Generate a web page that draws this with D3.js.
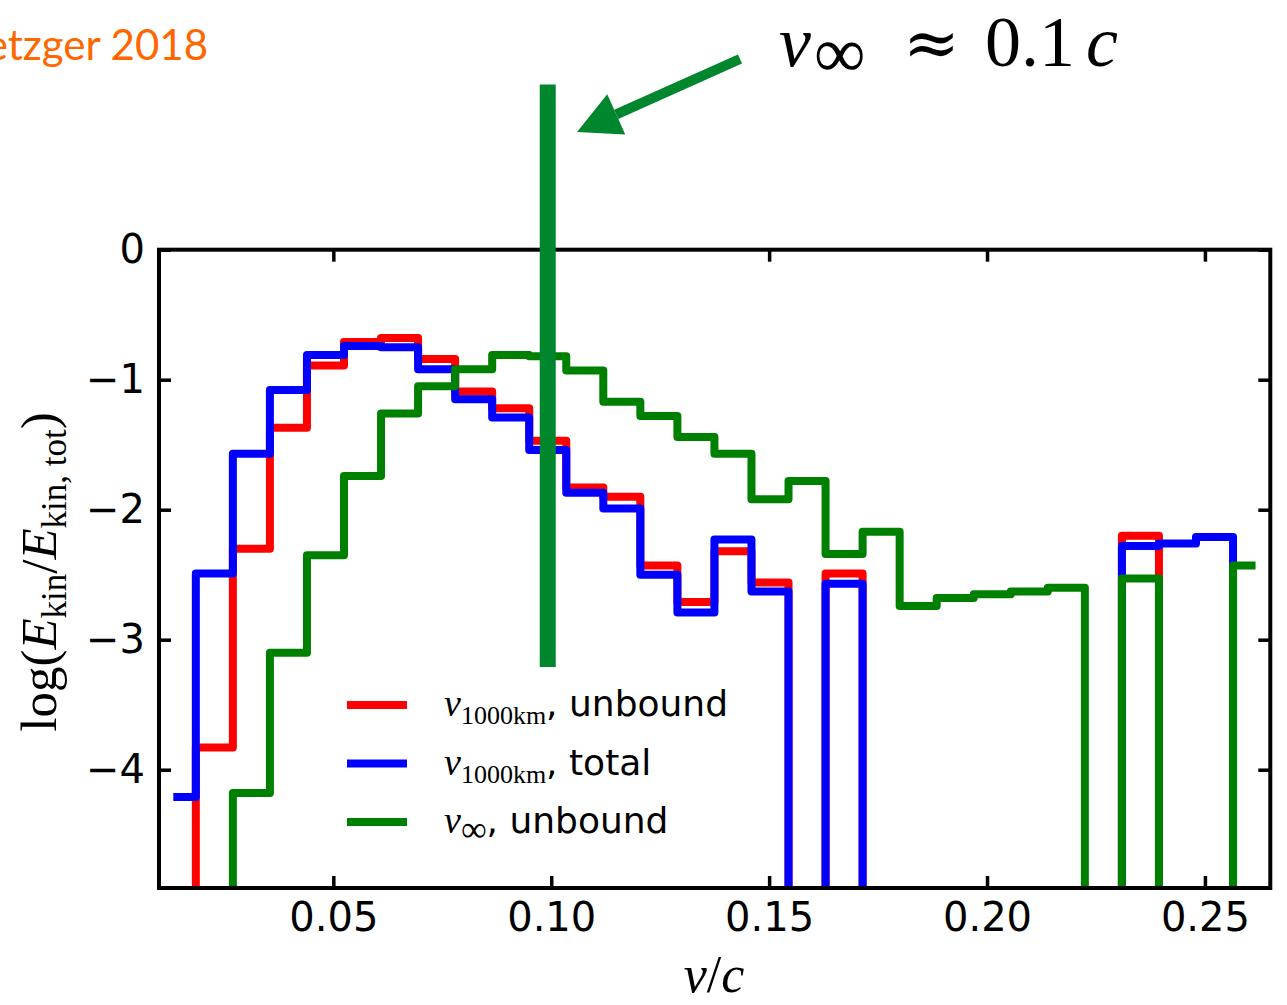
<!DOCTYPE html>
<html>
<head>
<meta charset="utf-8">
<script src="https://cdn.jsdelivr.net/npm/d3@7"></script>
<style>
  body { margin: 0; background: #fff; }
  svg { display: block; }
</style>
</head>
<body>
<svg id="chart" width="1287" height="1005"></svg>
<script>
// Velocity bins (bin centres, v/c); histogram steps switch at the midpoints.
const binCenters = [
  0.0142, 0.0227, 0.0312, 0.0397, 0.0482, 0.0567, 0.0652, 0.0737, 0.0822, 0.0907,
  0.0992, 0.1077, 0.1162, 0.1247, 0.1332, 0.1417, 0.1502, 0.1587, 0.1672, 0.1757,
  0.1842, 0.1927, 0.2012, 0.2097, 0.2182, 0.2267, 0.2352, 0.2437, 0.2522, 0.2607
];

// log(E_kin / E_kin,tot) per bin; null = empty bin (log of zero).
const unbound1000km = [
  null, -3.83, -2.30, -1.37, -0.89, -0.71, -0.68, -0.84, -1.09, -1.22,
  -1.47, -1.83, -1.90, -2.43, -2.71, -2.32, -2.56, null, -2.49, null,
  null, null, null, null, null, null, -2.20, null, null, null
];
const total1000km = [
  -4.21, -2.49, -1.57, -1.08, -0.81, -0.74, -0.75, -0.92, -1.15, -1.29,
  -1.54, -1.87, -1.99, -2.50, -2.79, -2.23, -2.63, null, -2.57, null,
  null, null, null, null, null, null, -2.28, -2.26, -2.21, null
];
const unboundInf = [
  null, null, -4.18, -3.10, -2.35, -1.74, -1.26, -1.05, -0.92, -0.81,
  -0.82, -0.93, -1.17, -1.28, -1.44, -1.57, -1.92, -1.78, -2.34, -2.17,
  -2.74, -2.68, -2.65, -2.63, -2.60, null, -2.53, null, null, -2.43
];

const xTicks = [0.05, 0.10, 0.15, 0.20, 0.25];
const yTicks = [0, -1, -2, -3, -4];
const xDomain = [0.01, 0.265];
const yDomain = [-4.91, 0];

// marked velocity and the extent of the marker bar (in data units)
const markerV = 0.0992;
const markerRange = [-3.21, 1.27];

const FLOOR = -8; // empty bins drop far below the frame and get clipped

const svg = d3.select("#chart");
const plot = { left: 159, right: 1270.3, top: 249.7, bottom: 888 };

const x = d3.scaleLinear().domain(xDomain).range([plot.left, plot.right]);
const y = d3.scaleLinear().domain(yDomain).range([plot.bottom, plot.top]);

svg.append("rect").attr("width", 1287).attr("height", 1005).attr("fill", "#fff");

svg.append("defs").append("clipPath").attr("id", "plotClip")
  .append("rect")
  .attr("x", plot.left).attr("y", plot.top)
  .attr("width", plot.right - plot.left).attr("height", plot.bottom - plot.top);

// Series histograms
const series = [
  { values: unbound1000km, color: "#ff0000" },
  { values: total1000km, color: "#0000ff" },
  { values: unboundInf, color: "#008000" }
];

const stepLine = d3.line()
  .x((d, i) => x(binCenters[i]))
  .y(d => y(d == null ? FLOOR : d))
  .curve(d3.curveStep);

const gSeries = svg.append("g").attr("clip-path", "url(#plotClip)");
series.forEach(s => {
  gSeries.append("path")
    .attr("d", stepLine(s.values))
    .attr("fill", "none")
    .attr("stroke", s.color)
    .attr("stroke-width", 8)
    .attr("stroke-linejoin", "round")
    .attr("stroke-linecap", "square");
});

// Axes: inward ticks on all four sides, labels on bottom and left
const tickFont = "'DejaVu Sans', sans-serif";
const styleAxis = g => {
  g.select(".domain").remove();
  g.selectAll(".tick line").attr("stroke", "#000").attr("stroke-width", 3.5);
  g.selectAll(".tick text").attr("fill", "#000")
    .style("font-family", tickFont).style("font-size", "40px");
};

svg.append("g").attr("transform", `translate(0,${plot.bottom})`)
  .call(d3.axisBottom(x).tickValues(xTicks).tickSize(-12).tickPadding(15)
    .tickFormat(d3.format(".2f")))
  .call(styleAxis);

svg.append("g").attr("transform", `translate(0,${plot.top})`)
  .call(d3.axisTop(x).tickValues(xTicks).tickSize(-12).tickFormat(""))
  .call(styleAxis);

svg.append("g").attr("transform", `translate(${plot.left},0)`)
  .call(d3.axisLeft(y).tickValues(yTicks).tickSize(-12).tickPadding(14)
    .tickFormat(d3.format("d")))
  .call(styleAxis);

svg.append("g").attr("transform", `translate(${plot.right},0)`)
  .call(d3.axisRight(y).tickValues(yTicks).tickSize(-12).tickFormat(""))
  .call(styleAxis);

// Frame
svg.append("rect")
  .attr("x", plot.left).attr("y", plot.top)
  .attr("width", plot.right - plot.left).attr("height", plot.bottom - plot.top)
  .attr("fill", "none").attr("stroke", "#000").attr("stroke-width", 4);

const mathFont = "'Liberation Serif', 'DejaVu Serif', serif";

// Axis labels
const xLabel = svg.append("text")
  .attr("x", 714)
  .attr("y", 992)
  .attr("text-anchor", "middle")
  .style("font-family", mathFont).style("font-size", "52px");
xLabel.append("tspan").style("font-style", "italic").text("v");
xLabel.append("tspan").text("/");
xLabel.append("tspan").style("font-style", "italic").text("c");

const yLabel = svg.append("text")
  .attr("transform", "translate(56,572) rotate(-90)")
  .attr("text-anchor", "middle")
  .style("font-family", mathFont).style("font-size", "51px");
yLabel.append("tspan").text("log(");
yLabel.append("tspan").style("font-style", "italic").text("E");
yLabel.append("tspan").attr("dy", 10).style("font-size", "35px").text("kin");
yLabel.append("tspan").attr("dy", -10).text("/");
yLabel.append("tspan").style("font-style", "italic").text("E");
yLabel.append("tspan").attr("dy", 10).style("font-size", "35px").text("kin, tot");
yLabel.append("tspan").attr("dy", -10).text(")");

// Legend
const legendItems = [
  { color: "#ff0000", sub: "1000km", subSize: 26, rest: ", unbound" },
  { color: "#0000ff", sub: "1000km", subSize: 26, rest: ", total" },
  { color: "#008000", sub: "\u221e", subSize: 36, rest: ", unbound" }
];
const legendY = [705, 763.5, 822];
legendItems.forEach((it, i) => {
  const ly = legendY[i];
  svg.append("line")
    .attr("x1", 351).attr("x2", 403).attr("y1", ly).attr("y2", ly)
    .attr("stroke", it.color).attr("stroke-width", 8).attr("stroke-linecap", "square");
  const t = svg.append("text").attr("x", 444).attr("y", ly + 11);
  t.append("tspan").style("font-family", mathFont).style("font-style", "italic")
    .style("font-size", "38px").text("v");
  t.append("tspan").attr("dy", 8).style("font-family", mathFont)
    .style("font-size", it.subSize + "px").text(it.sub);
  t.append("tspan").attr("dy", -8).style("font-family", tickFont)
    .style("font-size", "36px").text(it.rest);
});

// Marker bar at the characteristic velocity
const markColor = "#00862c";
svg.append("line")
  .attr("x1", x(markerV)).attr("x2", x(markerV))
  .attr("y1", y(markerRange[1])).attr("y2", y(markerRange[0]))
  .attr("stroke", markColor).attr("stroke-width", 16);

// Arrow pointing at the marker bar
const tip = [577, 132], tail = [740, 59];
const headLen = 43, headHalf = 22, shaftW = 10;
const dx = tail[0] - tip[0], dy = tail[1] - tip[1];
const len = Math.hypot(dx, dy);
const ux = dx / len, uy = dy / len, px = -uy, py = ux;
const base = [tip[0] + ux * headLen, tip[1] + uy * headLen];
svg.append("line")
  .attr("x1", base[0]).attr("y1", base[1]).attr("x2", tail[0]).attr("y2", tail[1])
  .attr("stroke", markColor).attr("stroke-width", shaftW);
svg.append("polygon")
  .attr("points", [
    tip,
    [base[0] + px * headHalf, base[1] + py * headHalf],
    [base[0] - px * headHalf, base[1] - py * headHalf]
  ].map(p => p.join(",")).join(" "))
  .attr("fill", markColor);

// Annotation text, laid out piece by piece with display-math spacing
const ann = svg.append("g").style("font-family", mathFont);
ann.append("text").attr("x", 779).attr("y", 66)
  .style("font-size", "72px").style("font-style", "italic").text("v");
ann.append("text").attr("x", 814).attr("y", 77)
  .style("font-size", "72px").text("\u221e");
ann.append("text").attr("x", 903).attr("y", 66)
  .style("font-family", "'DejaVu Serif', serif")
  .style("font-size", "68px").text("\u2248");
ann.append("text").attr("x", 985).attr("y", 66)
  .style("font-size", "72px").text("0.1");
ann.append("text").attr("x", 1086).attr("y", 66)
  .style("font-size", "72px").style("font-style", "italic").text("c");

// Source credit (runs off the left edge)
svg.append("text")
  .attr("x", 208).attr("y", 60)
  .attr("text-anchor", "end")
  .style("font-family", "Lato, sans-serif").style("font-size", "42px")
  .attr("fill", "#ff6600")
  .text("Metzger 2018");
</script>
</body>
</html>
